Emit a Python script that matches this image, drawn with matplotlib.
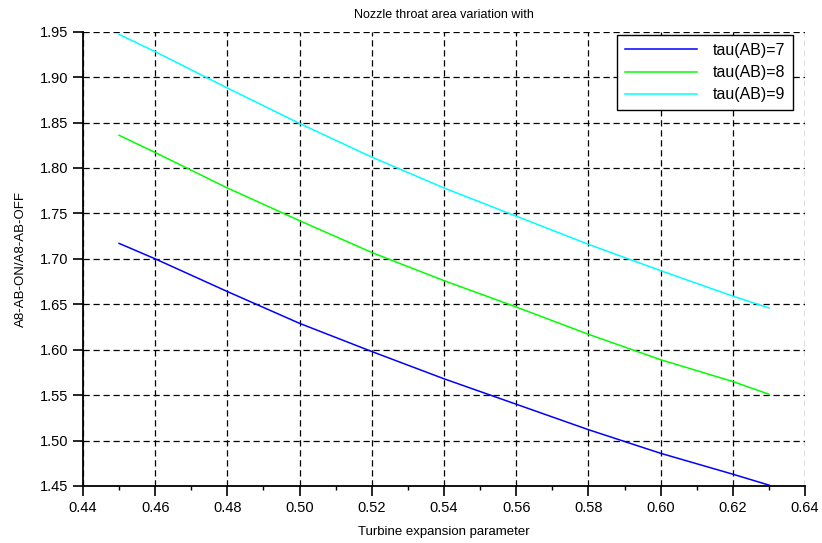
import matplotlib
matplotlib.use("Agg")
import matplotlib.pyplot as plt
from matplotlib.ticker import MultipleLocator

x = [0.45, 0.46, 0.48, 0.50, 0.52, 0.54, 0.56, 0.58, 0.60, 0.62, 0.63]
tau7 = [1.717, 1.700, 1.664, 1.629, 1.598, 1.568, 1.540, 1.512, 1.486, 1.463, 1.451]
tau8 = [1.836, 1.817, 1.778, 1.742, 1.707, 1.676, 1.647, 1.617, 1.589, 1.565, 1.551]
tau9 = [1.947, 1.928, 1.888, 1.849, 1.812, 1.778, 1.747, 1.716, 1.687, 1.659, 1.646]
labels = ["tau(AB)=7", "tau(AB)=8", "tau(AB)=9"]
colors = ["#0000ff", "#00ff00", "#00ffff"]

plt.rcParams['font.family'] = ['Liberation Sans', 'DejaVu Sans']

fig = plt.figure(figsize=(8.22, 5.43), dpi=100)
ax = fig.add_axes([83/822, 1-486/543, (805-83)/822, (486-31.7)/543])

for ys, lab, c in zip([tau7, tau8, tau9], labels, colors):
    ax.plot(x, ys, color=c, lw=1.1, label=lab)

ax.set_xlim(0.44, 0.64)
ax.set_ylim(1.45, 1.95)
ax.xaxis.set_major_locator(MultipleLocator(0.02))
ax.xaxis.set_minor_locator(MultipleLocator(0.01))
ax.yaxis.set_major_locator(MultipleLocator(0.05))
ax.xaxis.set_major_formatter(matplotlib.ticker.FormatStrFormatter('%.2f'))
ax.yaxis.set_major_formatter(matplotlib.ticker.FormatStrFormatter('%.2f'))

ax.grid(True, which='major', color='black', linestyle=(0, (5, 3)), lw=0.9)
ax.set_axisbelow(True)
for s in ['top', 'right']:
    ax.spines[s].set_visible(False)
for s in ['left', 'bottom']:
    ax.spines[s].set_linewidth(1.3)
    ax.spines[s].set_color('black')

ax.tick_params(axis='both', which='major', direction='out', length=7, width=1.2, labelsize=10.5, colors='black')
ax.tick_params(axis='x', which='minor', direction='out', length=3, width=1)

ax.set_title("Nozzle throat area variation with", fontsize=9, pad=10)
ax.set_xlabel("Turbine expansion parameter", fontsize=9.5, labelpad=8)
ax.set_ylabel("A8-AB-ON/A8-AB-OFF", fontsize=9.5, labelpad=9)

leg = ax.legend(loc='upper right', bbox_to_anchor=(0.9834, 0.9927), borderaxespad=0,
                fancybox=False, edgecolor='black', framealpha=1, fontsize=11.5,
                handlelength=4.5, handletextpad=1.0, labelspacing=0.45, borderpad=0.5)
leg.get_frame().set_linewidth(1.0)

fig.savefig("out.png", dpi=100)
